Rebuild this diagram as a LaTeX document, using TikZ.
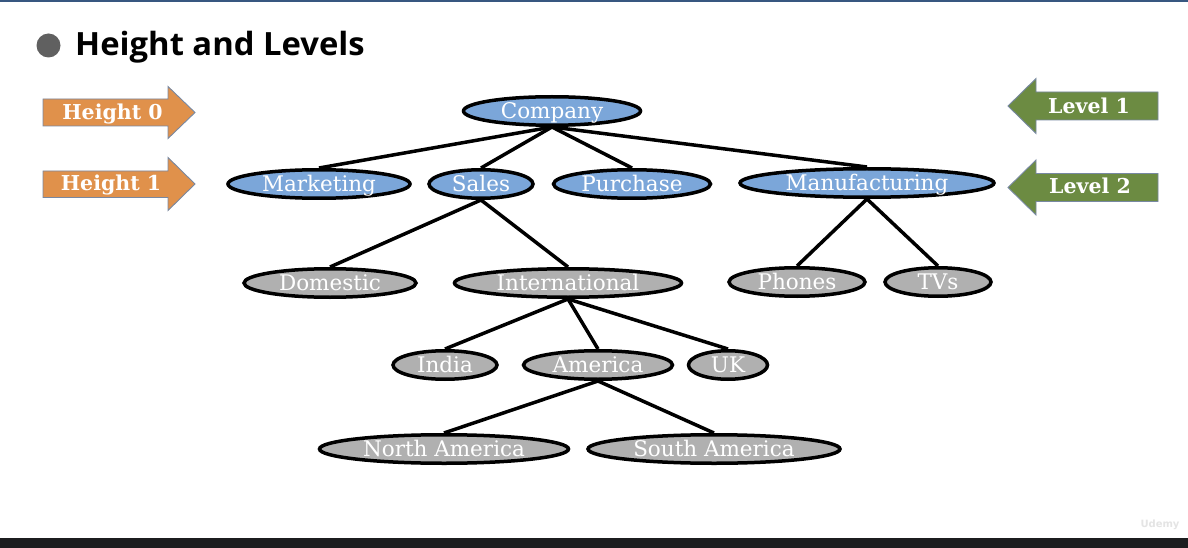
\documentclass[tikz,border=0pt]{standalone}
\usepackage{fontspec}
\setmainfont{DejaVu Serif}
\newfontfamily\titlefont{Open Sans}
\newfontfamily\logofont{DejaVu Sans}
\usetikzlibrary{shapes.geometric}
\definecolor{nodeblue}{RGB}{123,166,217}
\definecolor{nodegray}{RGB}{176,176,176}
\definecolor{arroworange}{RGB}{224,145,75}
\definecolor{arrowgreen}{RGB}{108,139,66}
\definecolor{arrowedge}{RGB}{120,136,162}
\definecolor{bulletgray}{RGB}{96,96,96}
\definecolor{topbar}{RGB}{56,87,128}
\definecolor{bottombar}{RGB}{28,29,31}
\definecolor{watermark}{RGB}{228,228,228}
\begin{document}
\begin{tikzpicture}[x=1pt,y=-1pt,
  tnode/.style={ellipse, draw=black, line width=3.5pt, inner sep=0pt, text=white,
    font=\fontsize{21.5}{21.5}\selectfont, text height=15.5pt, text depth=0pt, minimum height=28.5pt},
  bnode/.style={tnode, fill=nodeblue},
  gnode/.style={tnode, fill=nodegray},
  edge/.style={line width=3.5pt, draw=black},
  bigarrow/.style={draw=arrowedge, line width=0.9pt},
  arrowtext/.style={inner sep=0pt, text=white, anchor=base, font=\bfseries\fontsize{20.5}{20.5}\selectfont}
]
\useasboundingbox (0,0) rectangle (1188,548);
\fill[white] (0,0) rectangle (1188,548);
\fill[topbar] (0,0) rectangle (1188,2.2);
\fill[bottombar] (0,538) rectangle (1188,548);

% title
\fill[bulletgray] (48.5,45.5) circle (12);
\node[anchor=base west, inner sep=0pt, font=\titlefont\bfseries\fontsize{32}{32}\selectfont] (title) at (75,56) {\scalebox{1.025}[1]{Height and Levels}};

% side arrows
\path[bigarrow, fill=arroworange] (43,99) -- (168,99) -- (168,86.5) -- (195,112.5) -- (168,138.5) -- (168,126) -- (43,126) -- cycle;
\node[arrowtext] (h0) at (112.5,119.3) {Height 0};
\path[bigarrow, fill=arroworange] (43,171) -- (168,171) -- (168,157.5) -- (195,184) -- (168,210.5) -- (168,197.5) -- (43,197.5) -- cycle;
\node[arrowtext] (h1) at (111,190.7) {Height 1};
\path[bigarrow, fill=arrowgreen] (1158,92) -- (1036,92) -- (1036,78.5) -- (1008,106) -- (1036,133.5) -- (1036,120) -- (1158,120) -- cycle;
\node[arrowtext] (l1) at (1089,113.3) {Level 1};
\path[bigarrow, fill=arrowgreen] (1158,173.5) -- (1036,173.5) -- (1036,160) -- (1008,187.5) -- (1036,215) -- (1036,201.5) -- (1158,201.5) -- cycle;
\node[arrowtext] (l2) at (1090,193.5) {Level 2};

% tree nodes
\node[bnode, minimum width=177pt] (company) at (552,111) {Company};
\node[bnode, minimum width=182pt] (marketing) at (319,184) {Marketing};
\node[bnode, minimum width=104pt] (sales) at (481,184) {Sales};
\node[bnode, minimum width=157pt] (purchase) at (632,184) {Purchase};
\node[bnode, minimum width=254pt] (manufacturing) at (867,183) {Manufacturing};
\node[gnode, minimum width=172pt] (domestic) at (330,283) {Domestic};
\node[gnode, minimum width=227pt] (international) at (568,283) {International};
\node[gnode, minimum width=136pt] (phones) at (797,282) {Phones};
\node[gnode, minimum width=106pt] (tvs) at (938,282) {TVs};
\node[gnode, minimum width=104pt] (india) at (445,365) {India};
\node[gnode, minimum width=149pt] (america) at (598,365) {America};
\node[gnode, minimum width=79pt] (uk) at (728,365) {UK};
\node[gnode, minimum width=249pt] (northam) at (444,449) {North America};
\node[gnode, minimum width=252pt] (southam) at (714,449) {South America};

% edges
\foreach \p/\c in {company/marketing, company/sales, company/purchase, company/manufacturing,
  sales/domestic, sales/international, manufacturing/phones, manufacturing/tvs,
  international/india, international/america, international/uk,
  america/northam, america/southam}
  \draw[edge] (\p.south) -- (\c.north);

% watermark
\node[inner sep=0pt, text=watermark, font=\logofont\bfseries\fontsize{10}{10}\selectfont] (wm) at (1160,525) {Udemy};
\end{tikzpicture}
\end{document}
